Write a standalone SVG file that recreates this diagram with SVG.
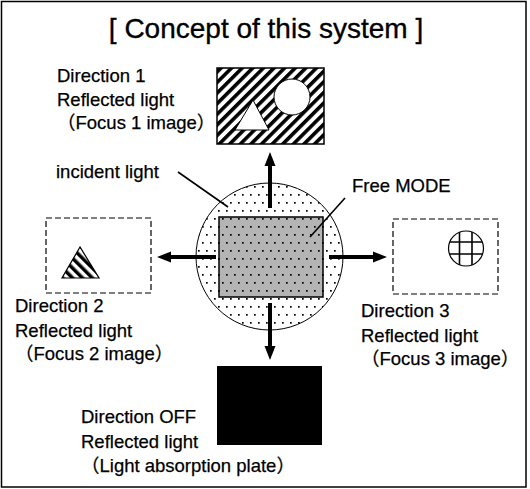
<svg xmlns="http://www.w3.org/2000/svg" width="530" height="489" viewBox="0 0 530 489">
<style>
text{font-family:"Liberation Sans","Noto Sans CJK JP",Arial,sans-serif;font-size:18.5px;fill:#000;stroke:#000;stroke-width:0.25}
.title{font-size:28px;text-anchor:middle;stroke-width:0.35}
.dash{fill:#fff;stroke:#000;stroke-width:1.2;stroke-dasharray:6 3}
.lead{stroke:#000;stroke-width:1.6;fill:none}
.arr{stroke:#000;stroke-width:4;fill:none}
.head{fill:#000}
.thin{stroke:#000;stroke-width:1;fill:#fff}
</style>
<defs>
<pattern id="stripe1" width="7.5" height="7.5" patternUnits="userSpaceOnUse" patternTransform="rotate(45)">
<rect x="0" y="0" width="3.6" height="7.5" fill="#000"/>
</pattern>
<pattern id="stripe2" width="7" height="7" patternUnits="userSpaceOnUse" patternTransform="rotate(-45)">
<rect x="0" y="0" width="3.5" height="7" fill="#000"/>
</pattern>
<pattern id="dots" width="8" height="16" patternUnits="userSpaceOnUse">
<rect x="2" y="2" width="1.7" height="1.7" fill="#000"/>
<rect x="6" y="10" width="1.7" height="1.7" fill="#000"/>
</pattern>
<clipPath id="cc"><circle cx="466" cy="248.5" r="17.5"/></clipPath>
</defs>
<rect x="1.5" y="1.5" width="524.5" height="485.5" fill="#fff" stroke="#000" stroke-width="1.5"/>
<text class="title" x="266" y="38">[ Concept of this system ]</text>

<g id="center">
<circle cx="269.5" cy="256.5" r="73.5" fill="#fff" stroke="#000" stroke-width="1"/>
<circle cx="269.5" cy="256.5" r="73.5" fill="url(#dots)"/>
<rect x="219" y="217" width="104" height="80" fill="#b4b4b4" stroke="#000" stroke-width="1.5"/>
<rect x="219" y="217" width="104" height="80" fill="url(#dots)"/>
</g>

<g id="connectors">
<line class="lead" x1="178" y1="172" x2="228" y2="207"/>
<line class="lead" x1="345" y1="198" x2="310" y2="237"/>
</g>

<g id="arrows">
<line class="arr" x1="270" y1="208" x2="270" y2="164"/>
<polygon class="head" points="270,152 264.5,166 275.5,166"/>
<line class="arr" x1="270" y1="303" x2="270" y2="348"/>
<polygon class="head" points="270,360 264.5,346 275.5,346"/>
<line class="arr" x1="216" y1="257" x2="169" y2="257"/>
<polygon class="head" points="157,257 171,251.5 171,262.5"/>
<line class="arr" x1="329" y1="257" x2="375" y2="257"/>
<polygon class="head" points="387,257 373,251.5 373,262.5"/>
</g>

<g id="dir1">
<rect x="217" y="68" width="107" height="76" fill="url(#stripe1)" stroke="#000" stroke-width="1.5"/>
<circle cx="292" cy="97" r="18" class="thin"/>
<polygon class="thin" points="253,100 235,130 269,130"/>
<text x="57" y="82">Direction 1</text>
<text x="57" y="106">Reflected light</text>
<text x="57" y="129">（Focus 1 image）</text>
</g>

<g id="dir2">
<rect class="dash" x="46" y="218" width="105" height="75"/>
<polygon points="80,247 62,278 99,278" fill="url(#stripe2)" stroke="#000" stroke-width="1.2"/>
<text x="15" y="312">Direction 2</text>
<text x="15" y="337">Reflected light</text>
<text x="15" y="360">（Focus 2 image）</text>
</g>

<g id="dir3">
<rect class="dash" x="393" y="219" width="105" height="75"/>
<circle cx="466" cy="248.5" r="17.5" fill="#fff" stroke="#000" stroke-width="1.2"/>
<g clip-path="url(#cc)" stroke="#000" stroke-width="1.6">
<line x1="459.5" y1="225" x2="459.5" y2="272"/>
<line x1="472" y1="225" x2="472" y2="272"/>
<line x1="440" y1="242" x2="492" y2="242"/>
<line x1="440" y1="254" x2="492" y2="254"/>
</g>
<text x="361" y="317">Direction 3</text>
<text x="361" y="342">Reflected light</text>
<text x="361" y="365">（Focus 3 image）</text>
</g>

<g id="dirOFF">
<rect x="217" y="366" width="105" height="79" fill="#000"/>
<text x="81" y="423">Direction OFF</text>
<text x="81" y="448">Reflected light</text>
<text x="81" y="472">（Light absorption plate）</text>
</g>

<g id="labels">
<text x="56" y="178">incident light</text>
<text x="352" y="192">Free MODE</text>
</g>
</svg>
